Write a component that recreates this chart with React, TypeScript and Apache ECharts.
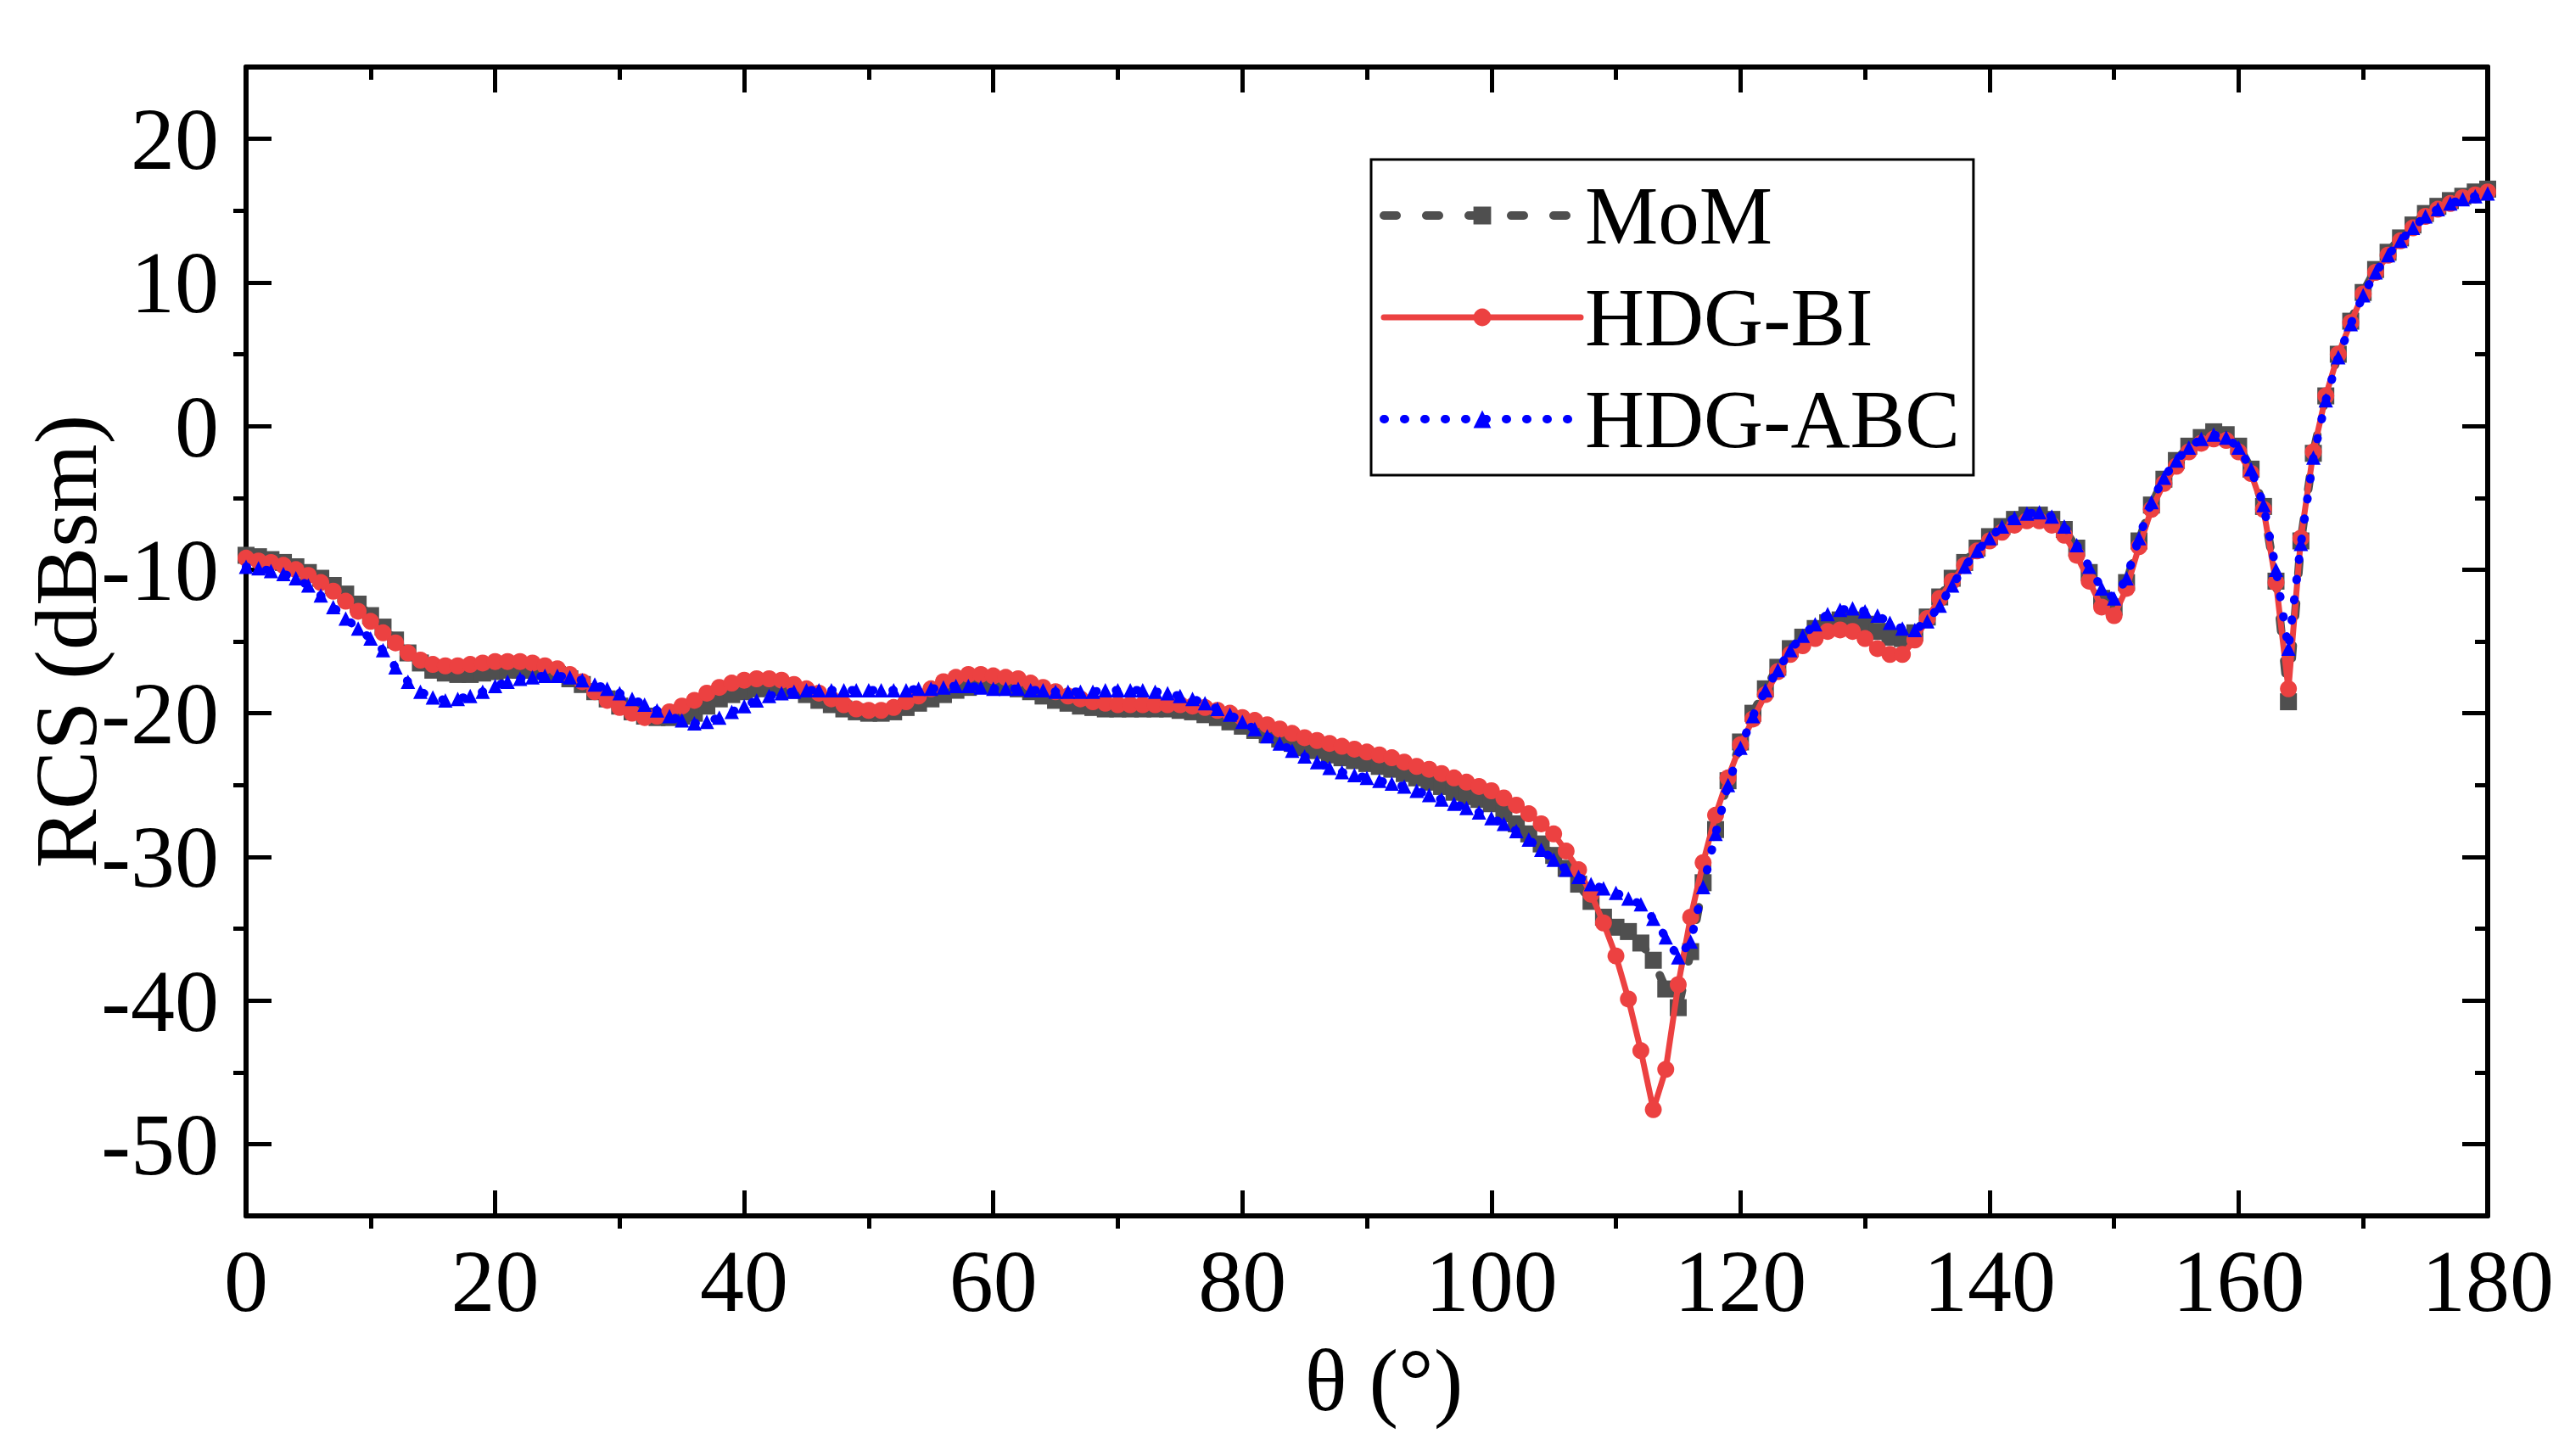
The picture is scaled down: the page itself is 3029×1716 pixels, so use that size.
import React, { useEffect, useRef } from "react";
import * as echarts from "echarts";

const FONT = "'Liberation Serif', 'Times New Roman', serif";
const GRAY = "#4f4f4f";
const RED = "#ec4141";
const BLUE = "#0000ff";

const thetaDeg = [
  0, 1, 2, 3, 4, 5, 6, 7, 8, 9, 10, 11, 12, 13, 14, 15, 16, 17, 18, 19,
  20, 21, 22, 23, 24, 25, 26, 27, 28, 29, 30, 31, 32, 33, 34, 35, 36, 37, 38, 39,
  40, 41, 42, 43, 44, 45, 46, 47, 48, 49, 50, 51, 52, 53, 54, 55, 56, 57, 58, 59,
  60, 61, 62, 63, 64, 65, 66, 67, 68, 69, 70, 71, 72, 73, 74, 75, 76, 77, 78, 79,
  80, 81, 82, 83, 84, 85, 86, 87, 88, 89, 90, 91, 92, 93, 94, 95, 96, 97, 98, 99,
  100, 101, 102, 103, 104, 105, 106, 107, 108, 109, 110, 111, 112, 113, 114, 115, 116, 117, 118, 119,
  120, 121, 122, 123, 124, 125, 126, 127, 128, 129, 130, 131, 132, 133, 134, 135, 136, 137, 138, 139,
  140, 141, 142, 143, 144, 145, 146, 147, 148, 149, 150, 151, 152, 153, 154, 155, 156, 157, 158, 159,
  160, 161, 162, 163, 164, 165, 166, 167, 168, 169, 170, 171, 172, 173, 174, 175, 176, 177, 178, 179,
  180,
];

const momValues = [
  -9.0, -9.1, -9.3, -9.5, -9.8, -10.2, -10.6, -11.1, -11.7, -12.4,
  -13.2, -14.0, -14.9, -15.8, -16.5, -17.0, -17.2, -17.3, -17.3, -17.2,
  -17.1, -17.0, -17.0, -17.0, -17.1, -17.3, -17.6, -18.0, -18.5, -19.0,
  -19.5, -19.9, -20.2, -20.3, -20.3, -20.2, -20.0, -19.5, -19.0, -18.7,
  -18.5, -18.3, -18.2, -18.2, -18.4, -18.7, -19.1, -19.4, -19.7, -19.9,
  -20.0, -20.0, -19.9, -19.6, -19.3, -19.0, -18.7, -18.4, -18.2, -18.0,
  -18.0, -18.1, -18.3, -18.5, -18.8, -19.1, -19.3, -19.5, -19.6, -19.7,
  -19.7, -19.7, -19.7, -19.7, -19.7, -19.8, -19.9, -20.1, -20.3, -20.6,
  -20.9, -21.2, -21.5, -21.8, -22.1, -22.4, -22.6, -22.9, -23.1, -23.3,
  -23.5, -23.7, -23.9, -24.2, -24.5, -24.8, -25.1, -25.5, -25.8, -26.0,
  -26.3, -27.0, -27.7, -28.4, -29.1, -29.9, -30.8, -31.9, -33.1, -34.2,
  -34.9, -35.2, -36.0, -37.2, -39.2, -40.5, -36.6, -31.8, -28.1, -24.7,
  -22.0, -20.0, -18.3, -16.8, -15.5, -14.7, -14.1, -13.7, -13.5, -13.5,
  -13.8, -14.3, -14.7, -14.8, -14.4, -13.3, -11.9, -10.6, -9.5, -8.5,
  -7.7, -7.0, -6.5, -6.2, -6.2, -6.5, -7.2, -8.5, -10.2, -12.0,
  -12.6, -10.9, -8.0, -5.5, -3.7, -2.4, -1.4, -0.8, -0.4, -0.6,
  -1.4, -3.0, -5.6, -10.8, -19.2, -8.0, -1.9, 2.1, 5.0, 7.3,
  9.3, 10.9, 12.1, 13.1, 14.0, 14.8, 15.3, 15.7, 16.0, 16.3,
  16.5,
];

const hdgBiValues = [
  -9.2, -9.4, -9.5, -9.7, -10.0, -10.4, -10.9, -11.5, -12.2, -12.9,
  -13.6, -14.4, -15.1, -15.8, -16.3, -16.6, -16.7, -16.7, -16.6, -16.5,
  -16.4, -16.4, -16.4, -16.5, -16.7, -16.9, -17.3, -17.8, -18.5, -19.1,
  -19.6, -20.0, -20.3, -20.2, -19.9, -19.5, -19.1, -18.6, -18.2, -17.9,
  -17.7, -17.6, -17.6, -17.7, -18.0, -18.3, -18.6, -19.0, -19.4, -19.7,
  -19.8, -19.8, -19.6, -19.2, -18.8, -18.3, -17.8, -17.5, -17.3, -17.3,
  -17.4, -17.5, -17.6, -17.9, -18.2, -18.5, -18.8, -19.0, -19.2, -19.3,
  -19.4, -19.4, -19.4, -19.4, -19.4, -19.4, -19.5, -19.6, -19.8, -20.0,
  -20.3, -20.5, -20.8, -21.1, -21.4, -21.7, -21.9, -22.1, -22.3, -22.5,
  -22.7, -22.9, -23.1, -23.4, -23.7, -23.9, -24.2, -24.5, -24.8, -25.1,
  -25.4, -25.9, -26.4, -27.0, -27.7, -28.4, -29.6, -30.9, -32.6, -34.6,
  -36.9, -39.9, -43.5, -47.6, -44.8, -38.9, -34.2, -30.4, -27.1, -24.5,
  -22.2, -20.4, -18.7, -17.1, -15.9, -15.3, -14.8, -14.3, -14.2, -14.3,
  -14.8, -15.5, -15.9, -15.9, -14.9, -13.4, -12.0, -10.8, -9.7, -8.7,
  -8.0, -7.4, -6.9, -6.6, -6.6, -6.9, -7.6, -9.0, -10.8, -12.6,
  -13.2, -11.3, -8.4, -5.8, -4.0, -2.8, -1.8, -1.2, -0.9, -1.0,
  -1.8, -3.3, -5.8, -10.9, -18.3, -7.8, -1.8, 2.1, 5.0, 7.2,
  9.2, 10.7, 11.9, 12.9, 13.8, 14.6, 15.1, 15.5, 15.9, 16.1,
  16.3,
];

const hdgAbcValues = [
  -9.8, -9.9, -10.1, -10.3, -10.6, -11.1, -11.8, -12.6, -13.4, -14.1,
  -14.8, -15.6, -16.8, -17.8, -18.5, -18.9, -19.1, -19.0, -18.8, -18.5,
  -18.1, -17.8, -17.6, -17.5, -17.4, -17.4, -17.5, -17.7, -18.0, -18.3,
  -18.6, -19.0, -19.4, -19.8, -20.2, -20.5, -20.7, -20.6, -20.3, -19.9,
  -19.5, -19.1, -18.8, -18.6, -18.5, -18.4, -18.4, -18.4, -18.4, -18.4,
  -18.4, -18.4, -18.4, -18.4, -18.3, -18.3, -18.2, -18.1, -18.1, -18.2,
  -18.3, -18.3, -18.3, -18.4, -18.4, -18.5, -18.5, -18.5, -18.5, -18.4,
  -18.4, -18.4, -18.4, -18.5, -18.6, -18.8, -19.0, -19.3, -19.7, -20.1,
  -20.6, -21.1, -21.6, -22.1, -22.6, -23.0, -23.4, -23.8, -24.1, -24.3,
  -24.5, -24.7, -24.9, -25.1, -25.4, -25.7, -26.0, -26.3, -26.6, -26.9,
  -27.3, -27.7, -28.2, -28.8, -29.5, -30.2, -30.9, -31.4, -31.9, -32.2,
  -32.5, -32.9, -33.3, -34.3, -35.6, -37.0, -35.9, -32.1, -28.4, -25.0,
  -22.4, -20.2, -18.4, -17.0, -15.6, -14.6, -13.8, -13.1, -12.8, -12.7,
  -12.9, -13.2, -13.7, -14.1, -14.2, -13.6, -12.5, -11.1, -9.8, -8.7,
  -7.8, -7.0, -6.4, -6.1, -6.0, -6.3, -7.0, -8.3, -9.8, -11.3,
  -12.0, -10.6, -7.8, -5.3, -3.6, -2.4, -1.5, -0.9, -0.6, -0.8,
  -1.5, -3.0, -5.5, -10.0, -15.5, -8.2, -2.2, 1.8, 4.8, 7.1,
  9.1, 10.7, 11.9, 12.9, 13.8, 14.6, 15.1, 15.5, 15.8, 16.0,
  16.2,
];

const xMinorTicks = [10, 30, 50, 70, 90, 110, 130, 150, 170];
const yMajorTicks = [-50, -40, -30, -20, -10, 0, 10, 20];
const yMinorTicks = [-45, -35, -25, -15, -5, 5, 15];

const pairs = (vals: number[]) => thetaDeg.map((t, i) => [t, vals[i]]);

export default function App() {
  const ref = useRef<HTMLDivElement>(null);

  useEffect(() => {
    if (!ref.current) return;
    const chart = echarts.init(ref.current, null, { renderer: "svg" });

    const black = "#000";
    const tickStyle = { color: black, width: 5 };
    const labelStyle = { fontSize: 104, fontFamily: FONT, color: black };

    const xBase = {
      type: "value",
      min: 0,
      max: 180,
      interval: 20,
      splitLine: { show: false },
    };
    const yBase = {
      type: "value",
      min: -55,
      max: 25,
      interval: 5,
      splitLine: { show: false },
    };

    const option = {
      animation: false,
      backgroundColor: "#fff",
      grid: { left: 290, right: 97, top: 79, bottom: 283, containLabel: false },
      legend: {
        orient: "vertical",
        left: 1616,
        top: 188,
        padding: [16, 16, 16, 10],
        itemWidth: 232,
        itemHeight: 26,
        itemGap: 20,
        borderColor: black,
        borderWidth: 3,
        backgroundColor: "#fff",
        lineStyle: { width: "inherit", type: "inherit", cap: "inherit" },
        textStyle: { fontSize: 97, fontFamily: FONT, color: black, lineHeight: 100 },
        data: ["MoM", "HDG-BI", "HDG-ABC"],
      },
      xAxis: [
        {
          ...xBase,
          position: "bottom",
          axisLine: { show: true, onZero: false, lineStyle: { color: black, width: 6 } },
          axisTick: { show: true, inside: true, length: 30, lineStyle: tickStyle },
          axisLabel: { show: true, margin: 24, ...labelStyle },
          name: "θ (°)",
          nameLocation: "middle",
          nameGap: 141,
          nameMoveOverlap: false,
          nameTextStyle: { ...labelStyle, padding: [0, 0, 0, 40] },
        },
        {
          ...xBase,
          position: "bottom",
          axisLine: { show: false, onZero: false },
          axisTick: { show: true, inside: false, length: 15, customValues: xMinorTicks, lineStyle: tickStyle },
          axisLabel: { show: false },
        },
        {
          ...xBase,
          position: "top",
          axisLine: { show: true, onZero: false, lineStyle: { color: black, width: 6 } },
          axisTick: { show: true, inside: true, length: 30, lineStyle: tickStyle },
          axisLabel: { show: false },
        },
        {
          ...xBase,
          position: "top",
          axisLine: { show: false, onZero: false },
          axisTick: { show: true, inside: true, length: 15, customValues: xMinorTicks, lineStyle: tickStyle },
          axisLabel: { show: false },
        },
      ],
      yAxis: [
        {
          ...yBase,
          position: "left",
          axisLine: { show: true, onZero: false, lineStyle: { color: black, width: 6 } },
          axisTick: { show: true, inside: true, length: 30, customValues: yMajorTicks, lineStyle: tickStyle },
          axisLabel: { show: true, margin: 32, customValues: yMajorTicks, ...labelStyle },
          name: "RCS (dBsm)",
          nameLocation: "middle",
          nameRotate: 90,
          nameGap: 161,
          nameMoveOverlap: false,
          nameTextStyle: { ...labelStyle },
        },
        {
          ...yBase,
          position: "left",
          axisLine: { show: false, onZero: false },
          axisTick: { show: true, inside: false, length: 15, customValues: yMinorTicks, lineStyle: tickStyle },
          axisLabel: { show: false },
        },
        {
          ...yBase,
          position: "right",
          axisLine: { show: true, onZero: false, lineStyle: { color: black, width: 6 } },
          axisTick: { show: true, inside: true, length: 30, customValues: yMajorTicks, lineStyle: tickStyle },
          axisLabel: { show: false },
        },
        {
          ...yBase,
          position: "right",
          axisLine: { show: false, onZero: false },
          axisTick: { show: true, inside: true, length: 15, customValues: yMinorTicks, lineStyle: tickStyle },
          axisLabel: { show: false },
        },
      ],
      series: [
        {
          name: "MoM",
          type: "line",
          xAxisIndex: 0,
          yAxisIndex: 0,
          data: pairs(momValues),
          symbol: "rect",
          symbolSize: 20,
          showAllSymbol: true,
          itemStyle: { color: GRAY },
          lineStyle: { color: GRAY, width: 10, type: [15, 35], cap: "round" },
          z: 2,
        },
        {
          name: "HDG-BI",
          type: "line",
          xAxisIndex: 0,
          yAxisIndex: 0,
          data: pairs(hdgBiValues),
          symbol: "circle",
          symbolSize: 20,
          showAllSymbol: true,
          itemStyle: { color: RED },
          lineStyle: { color: RED, width: 7, type: "solid", cap: "round" },
          z: 3,
        },
        {
          name: "HDG-ABC",
          type: "line",
          xAxisIndex: 0,
          yAxisIndex: 0,
          data: pairs(hdgAbcValues),
          symbol: "triangle",
          symbolSize: 17,
          showAllSymbol: true,
          itemStyle: { color: BLUE },
          lineStyle: { color: BLUE, width: 10, type: [1, 23], cap: "round" },
          z: 4,
        },
      ],
    };

    chart.setOption(option as any);
    return () => {
      chart.dispose();
    };
  }, []);

  return (
    <div
      ref={ref}
      style={{ position: "absolute", left: 0, top: 0, width: 3029, height: 1716, background: "#fff" }}
    />
  );
}
